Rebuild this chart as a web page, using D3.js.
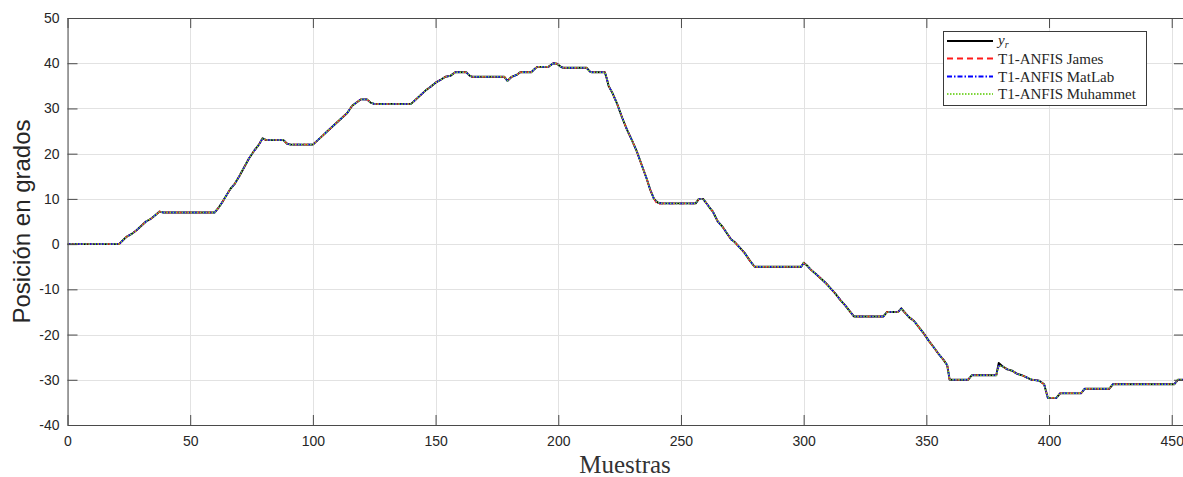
<!DOCTYPE html>
<html>
<head>
<meta charset="utf-8">
<script src="https://cdn.jsdelivr.net/npm/d3@7"></script>
<style>
  html, body { margin: 0; padding: 0; background: #fff; }
  svg { display: block; }
</style>
</head>
<body>
<svg id="chart" width="1183" height="477"></svg>
<script>
// Sample indices where the trajectories change slope
const muestras = [
  0, 21, 22.5, 24, 26, 28, 30, 32, 34, 36, 37.5, 39, 60, 61.5, 63, 65, 66.5, 68, 70, 72,
  74, 76, 78, 79.5, 81, 88, 89.5, 91, 100, 102, 104, 106, 108, 110, 112, 114, 116, 117.5, 119.5, 122,
  123.5, 125, 140, 142, 144, 146, 148, 150, 152, 154, 156, 158, 162.5, 164, 165, 178, 179.3, 181, 183, 184.5,
  189, 190.5, 191.5, 196, 198, 199.5, 201, 202, 211.5, 212.8, 213.5, 219, 219.8, 220.5, 222, 224, 226, 228, 230, 232,
  234, 236, 237.5, 239, 240.5, 242, 256, 257.3, 259, 260, 261.5, 263, 265, 267, 269, 270.5, 272, 274, 276, 278,
  280, 299, 300, 301.5, 303, 305, 307, 309, 311, 313, 315, 317, 319, 320.5, 332.5, 334, 338.5, 339.8, 341, 343,
  345, 347, 349, 351, 353, 355, 357, 358.5, 359.5, 367, 368.5, 378.5, 379.5, 381, 383, 385, 387, 389, 391, 393,
  396, 398, 399.5, 403, 404.5, 413, 414.5, 424.5, 426, 451, 452.5, 455
];

// Reference position y_r (degrees)
const yRef = [
  0, 0, 0.8, 1.6, 2.2, 3, 4, 5, 5.6, 6.5, 7.2, 7, 7, 8, 9.2, 11, 12.3, 13.2, 15, 17,
  19, 20.6, 22, 23.4, 23, 23, 22.2, 22, 22, 23, 24, 25, 26, 27, 28, 29, 30.6, 31.2, 32, 32,
  31.3, 31, 31, 32, 33, 34, 34.8, 35.7, 36.3, 37, 37.2, 38, 38, 37.2, 37, 37, 36.1, 37, 37.4, 38,
  38, 38.8, 39.2, 39.2, 40, 39.9, 39.2, 39, 39, 38.2, 38, 38, 36.5, 35, 33.5, 31, 28, 25.3, 23, 20.5,
  17.5, 14.5, 12, 10, 9.2, 9, 9, 10, 10, 9.3, 8.2, 7.2, 5, 3.8, 2.2, 1, 0.4, -0.8, -2, -3.6,
  -5, -5, -4.1, -4.8, -5.7, -6.6, -7.6, -8.6, -9.8, -11, -12.4, -13.6, -15, -16, -16, -15, -15, -14.2, -15, -16.2,
  -17, -18.4, -19.8, -21.4, -22.8, -24.3, -25.6, -26.8, -30, -30, -29, -29, -26.3, -27, -27.7, -28, -28.7, -29, -29.5, -30,
  -30.2, -31, -34, -34, -33, -33, -32, -32, -31, -31, -30, -30
];

// T1-ANFIS outputs
const yJames = [
  0, 0, 0.8, 1.6, 2.2, 3, 4, 5, 5.6, 6.5, 7.2, 7, 7, 8, 9.2, 11, 12.3, 13.2, 15, 17,
  19, 20.6, 22, 23.4, 23, 23, 22.2, 22, 22, 23, 24, 25, 26, 27, 28, 29, 30.6, 31.2, 32, 32,
  31.3, 31, 31, 32, 33, 34, 34.8, 35.7, 36.3, 37, 37.2, 38, 38, 37.2, 37, 37, 36.1, 37, 37.4, 38,
  38, 38.8, 39.2, 39.2, 40, 39.9, 39.2, 39, 39, 38.2, 38, 38, 36.6, 35, 33.5, 31, 28, 25.3, 23, 20.5,
  17.5, 14.5, 12, 10, 8.7, 9, 9, 10, 10, 9.3, 8.2, 7.2, 5, 3.8, 2.2, 1, 0.4, -0.8, -2, -3.6,
  -5, -5, -4.2, -4.8, -5.7, -6.6, -7.6, -8.6, -9.8, -11, -12.4, -13.6, -15, -16, -16, -15, -15, -14.3, -15, -16.2,
  -17, -18.4, -19.8, -21.4, -22.8, -24.3, -25.6, -26.7, -30, -30, -29, -29, -26.9, -27, -27.7, -28, -28.7, -29, -29.5, -30,
  -30.2, -31, -34, -34, -33, -33, -32, -32, -31, -31, -30, -30
];
const yMatlab = [
  0, 0, 0.8, 1.6, 2.2, 3, 4, 5, 5.6, 6.5, 7.2, 7, 7, 8, 9.2, 11, 12.3, 13.2, 15, 17,
  19, 20.6, 22, 23.4, 23, 23, 22.2, 22, 22, 23, 24, 25, 26, 27, 28, 29, 30.6, 31.2, 32, 32,
  31.3, 31, 31, 32, 33, 34, 34.8, 35.7, 36.3, 37, 37.2, 38, 38, 37.2, 37, 37, 36.1, 37, 37.4, 38,
  38, 38.8, 39.2, 39.2, 40, 39.9, 39.2, 39, 39, 38.2, 38, 38, 36.6, 35, 33.5, 31, 28, 25.3, 23, 20.5,
  17.5, 14.5, 12, 10, 9.2, 9, 9, 10, 10, 9.3, 8.2, 7.2, 5, 3.8, 2.2, 1, 0.4, -0.8, -2, -3.6,
  -5, -5, -4.2, -4.8, -5.7, -6.6, -7.6, -8.6, -9.8, -11, -12.4, -13.6, -15, -16, -16, -15, -15, -14.3, -15, -16.2,
  -17, -18.4, -19.8, -21.4, -22.8, -24.3, -25.6, -26.7, -30, -30, -29, -29, -26.9, -27, -27.7, -28, -28.7, -29, -29.5, -30,
  -30.2, -31, -34, -34, -33, -33, -32, -32, -31, -31, -30, -30
];
const yMuhammet = [
  0, 0, 0.8, 1.6, 2.2, 3, 4, 5, 5.6, 6.5, 7.2, 7, 7, 8, 9.2, 11, 12.3, 13.2, 15, 17,
  19, 20.6, 22, 23.4, 23, 23, 22.2, 22, 22, 23, 24, 25, 26, 27, 28, 29, 30.6, 31.2, 32, 32,
  31.3, 31, 31, 32, 33, 34, 34.8, 35.7, 36.3, 37, 37.2, 38, 38, 37.2, 37, 37, 36.1, 37, 37.4, 38,
  38, 38.8, 39.2, 39.2, 40, 39.9, 39.2, 39, 39, 38.2, 38, 38, 36.6, 35, 33.5, 31, 28, 25.3, 23, 20.5,
  17.5, 14.5, 12, 10, 9.2, 9, 9, 10, 10, 9.3, 8.2, 7.2, 5, 3.8, 2.2, 1, 0.4, -0.8, -2, -3.6,
  -5, -5, -4.2, -4.8, -5.7, -6.6, -7.6, -8.6, -9.8, -11, -12.4, -13.6, -15, -16, -16, -15, -15, -14.3, -15, -16.2,
  -17, -18.4, -19.8, -21.4, -22.8, -24.3, -25.6, -26.7, -30, -30, -29, -29, -26.9, -27, -27.7, -28, -28.7, -29, -29.5, -30,
  -30.2, -31, -34, -34, -33, -33, -32, -32, -31, -31, -30, -30
];

const xTicks = [0, 50, 100, 150, 200, 250, 300, 350, 400, 450];
const yTicks = [-40, -30, -20, -10, 0, 10, 20, 30, 40, 50];
const legendLabels = ["T1-ANFIS James", "T1-ANFIS MatLab", "T1-ANFIS Muhammet"];

const svg = d3.select("#chart");
const plot = { left: 67.5, right: 1184, top: 18, bottom: 425 };

const x = d3.scaleLinear().domain([0, 455]).range([plot.left, plot.right]);
const y = d3.scaleLinear().domain([-40, 50]).range([plot.bottom, plot.top]);

const axisColor = "#4a4a4a";
const textColor = "#262626";
const sansFont = "'Liberation Sans', Arial, Helvetica, sans-serif";
const serifFont = "'Liberation Serif', 'Times New Roman', serif";

// Grid
const grid = svg.append("g").attr("class", "grid");
grid.selectAll("line.gx").data(xTicks).join("line")
  .attr("x1", d => Math.round(x(d)) + 0.5).attr("x2", d => Math.round(x(d)) + 0.5)
  .attr("y1", plot.top).attr("y2", plot.bottom)
  .attr("stroke", "#e2e2e2").attr("stroke-width", 1);
grid.selectAll("line.gy").data(yTicks).join("line")
  .attr("y1", d => Math.round(y(d)) + 0.5).attr("y2", d => Math.round(y(d)) + 0.5)
  .attr("x1", plot.left).attr("x2", plot.right)
  .attr("stroke", "#e2e2e2").attr("stroke-width", 1);

// Series
svg.append("defs").append("clipPath").attr("id", "clip")
  .append("rect").attr("x", plot.left).attr("y", plot.top)
  .attr("width", plot.right - plot.left).attr("height", plot.bottom - plot.top);

const series = [
  { values: yRef,      color: "#000000", width: 1.9, dash: null },
  { values: yJames,    color: "#ff1a1a", width: 1.5, dash: "6,4" },
  { values: yMatlab,   color: "#0000ff", width: 1.5, dash: "5,2,1.5,2" },
  { values: yMuhammet, color: "#7ed63a", width: 1.5, dash: "1.5,1.5" }
];

const line = d3.line().x(d => x(d[0])).y(d => y(d[1]));
const lines = svg.append("g").attr("clip-path", "url(#clip)");
series.forEach(s => {
  lines.append("path")
    .datum(muestras.map((m, i) => [m, s.values[i]]))
    .attr("d", line)
    .attr("fill", "none")
    .attr("stroke", s.color)
    .attr("stroke-width", s.width)
    .attr("stroke-dasharray", s.dash)
    .attr("stroke-linejoin", "round");
});

// Axes (ticks pointing inward on all four sides)
const fmt = d => String(d);
function styleAxis(g) {
  g.selectAll(".domain").attr("stroke", axisColor);
  g.selectAll(".tick line").attr("stroke", axisColor);
  g.selectAll(".tick text").attr("fill", textColor)
    .style("font-family", sansFont).style("font-size", "14px");
}
svg.append("g").attr("transform", `translate(0,${plot.bottom})`)
  .call(d3.axisBottom(x).tickValues(xTicks).tickFormat(fmt).tickSizeInner(-10).tickSizeOuter(0).tickPadding(11))
  .call(styleAxis);
svg.append("g").attr("transform", `translate(${plot.left},0)`)
  .call(d3.axisLeft(y).tickValues(yTicks).tickFormat(fmt).tickSizeInner(-10).tickSizeOuter(0).tickPadding(8))
  .call(styleAxis);
svg.append("g").attr("transform", `translate(0,${plot.top})`)
  .call(d3.axisTop(x).tickValues(xTicks).tickFormat("").tickSizeInner(-10).tickSizeOuter(0))
  .call(styleAxis);
svg.append("g").attr("transform", `translate(${plot.right},0)`)
  .call(d3.axisRight(y).tickValues(yTicks).tickFormat("").tickSizeInner(-10).tickSizeOuter(0))
  .call(styleAxis);

// Axis titles
svg.append("text")
  .attr("transform", `translate(30,${(plot.top + plot.bottom) / 2}) rotate(-90)`)
  .attr("text-anchor", "middle")
  .attr("fill", textColor)
  .style("font-family", sansFont).style("font-size", "24px")
  .text("Posición en grados");
svg.append("text")
  .attr("x", 625).attr("y", 473)
  .attr("text-anchor", "middle")
  .attr("fill", "#333")
  .style("font-family", serifFont).style("font-size", "25px")
  .text("Muestras");

// Legend
const lg = svg.append("g");
lg.append("rect")
  .attr("x", 943.5).attr("y", 31.5).attr("width", 203).attr("height", 74)
  .attr("fill", "#fff").attr("stroke", "#3a3a3a").attr("stroke-width", 1);
const rowsY = [41, 58.5, 76.5, 94];
series.forEach((s, i) => {
  lg.append("line")
    .attr("x1", 947).attr("x2", 993).attr("y1", rowsY[i]).attr("y2", rowsY[i])
    .attr("stroke", s.color).attr("stroke-width", s.width + 0.3)
    .attr("stroke-dasharray", s.dash);
});
const yrText = lg.append("text")
  .attr("x", 998).attr("y", rowsY[0] + 4)
  .attr("fill", textColor)
  .style("font-family", serifFont).style("font-size", "15px").style("font-style", "italic");
yrText.append("tspan").text("y");
yrText.append("tspan").attr("dy", 3).style("font-size", "10px").text("r");
legendLabels.forEach((t, i) => {
  lg.append("text")
    .attr("x", 998).attr("y", rowsY[i + 1] + 5)
    .attr("fill", textColor)
    .style("font-family", serifFont).style("font-size", "15px")
    .text(t);
});
</script>
</body>
</html>
